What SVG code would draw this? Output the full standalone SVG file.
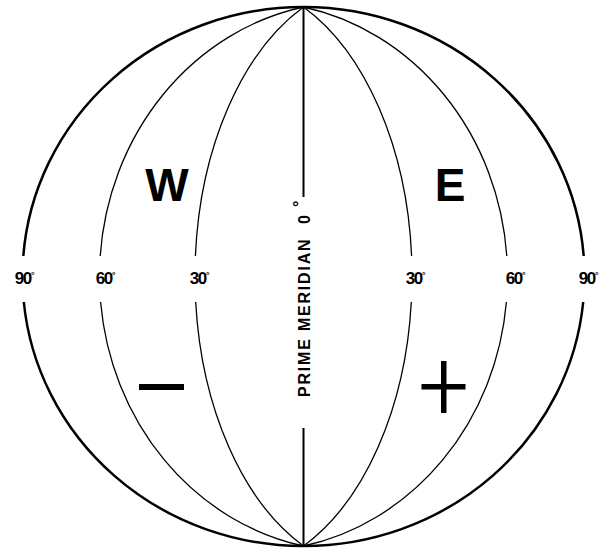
<svg xmlns="http://www.w3.org/2000/svg" width="606" height="550" viewBox="0 0 606 550">
<style>
.outer{fill:none;stroke:#000;stroke-width:2.5}
.mer{fill:none;stroke:#000;stroke-width:1.3}
.pm{stroke:#000;stroke-width:2}
.deg{font-family:"Liberation Sans",Arial,sans-serif;font-weight:bold;font-size:17px;text-anchor:middle;letter-spacing:-1.3px;fill:#000}
.deg tspan{font-size:9px}
.big{font-family:"Liberation Sans",Arial,sans-serif;font-weight:bold;font-size:46px;text-anchor:middle;fill:#000}
.pmt{font-family:"Liberation Sans",Arial,sans-serif;font-weight:bold;font-size:16px;fill:#000}
</style>
<rect width="606" height="550" fill="#fff"/>
<g id="connectors">
<g id="outline">
<path class="outer" d="M303.5 7 A281 269.5 0 0 0 23.3 256 M23.8 302 A281 269.5 0 0 0 303.5 546"/>
<path class="outer" d="M303.5 7 A281 269.5 0 0 1 583.7 256 M583.2 302 A281 269.5 0 0 1 303.5 546"/>
</g>
<path id="w60" class="mer" d="M303.5 7 A254 274.9 0 0 0 100.2 256 M100.6 302 A254 274.9 0 0 0 303.5 546"/>
<path id="w30" class="mer" d="M303.5 7 A186 296.5 0 0 0 195.4 256 M195.7 302 A186 296.5 0 0 0 303.5 546"/>
<path id="e30" class="mer" d="M303.5 7 A186 296.5 0 0 1 411.6 256 M411.3 302 A186 296.5 0 0 1 303.5 546"/>
<path id="e60" class="mer" d="M303.5 7 A254 274.9 0 0 1 506.8 256 M506.4 302 A254 274.9 0 0 1 303.5 546"/>
<path id="pm" class="pm" d="M303.5 7 V197 M303.5 428 V546"/>
</g>
<g id="labels">
<text class="deg" x="24" y="284">90<tspan dy="-6">°</tspan></text>
<text class="deg" x="105" y="284">60<tspan dy="-6">°</tspan></text>
<text class="deg" x="199" y="284">30<tspan dy="-6">°</tspan></text>
<text class="deg" x="415" y="284">30<tspan dy="-6">°</tspan></text>
<text class="deg" x="515" y="284">60<tspan dy="-6">°</tspan></text>
<text class="deg" x="588" y="284">90<tspan dy="-6">°</tspan></text>
</g>
<g id="west"><text class="big" x="167" y="201">W</text></g>
<g id="east"><text class="big" x="450" y="201">E</text></g>
<g id="pm-label">
<text class="pmt" letter-spacing="1.8" transform="translate(310 397) rotate(-90)">PRIME MERIDIAN</text>
<text class="pmt" transform="translate(310 224) rotate(-90)">0</text>
<text class="pmt" font-size="10" transform="translate(305 207) rotate(-90)">°</text>
</g>
<g id="minus"><rect x="139" y="384" width="45" height="6" fill="#000"/></g>
<g id="plus"><rect x="421.5" y="384" width="44" height="5.5" fill="#000"/><rect x="441" y="361" width="5.5" height="52" fill="#000"/></g>
</svg>
